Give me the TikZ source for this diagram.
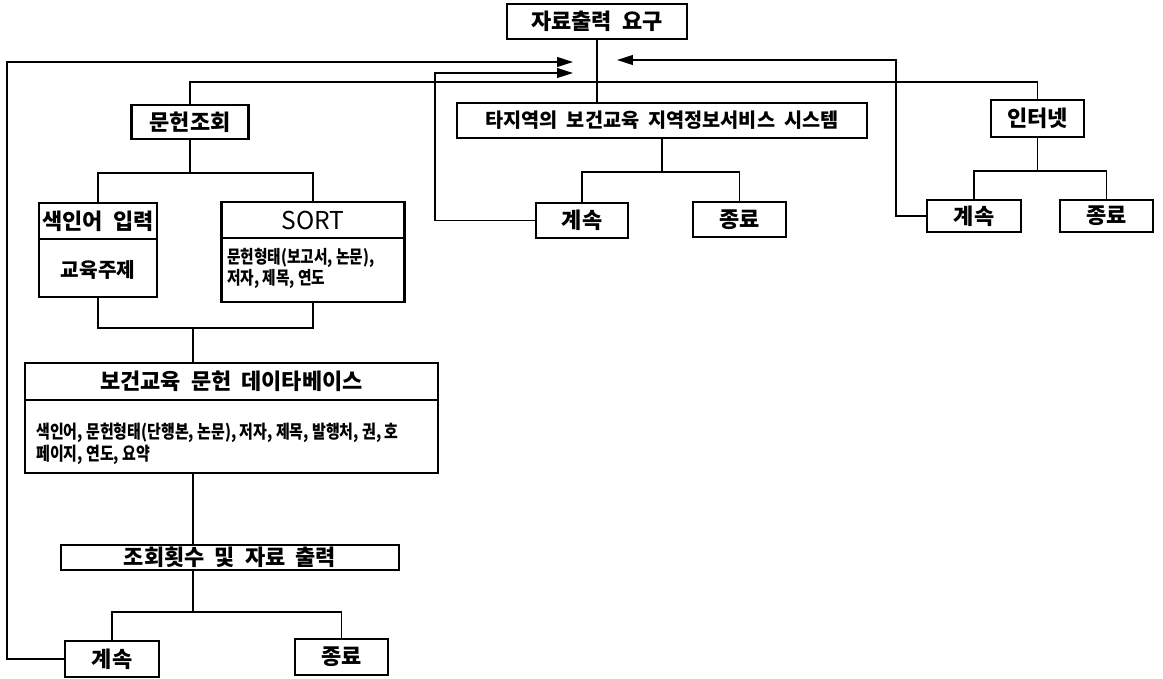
\documentclass[tikz,border=0pt]{standalone}
\usepackage{fontspec}
\newfontfamily\kr[WordSpace=2]{Noto Sans CJK KR}
\newfontfamily\krc[FakeStretch=0.82]{Noto Sans CJK KR}
\usetikzlibrary{arrows.meta}
\begin{document}
\begin{tikzpicture}[x=0.02cm,y=-0.02cm,
  wh/.style 2 args={minimum width=#1*0.02cm, minimum height=#2*0.02cm},
  box/.style={draw, line width=1.3pt, inner sep=0pt, font=\kr\bfseries\fontsize{12.5}{14}\selectfont},
  lbl/.style={inner sep=0pt, font=\kr\bfseries\fontsize{12.5}{14}\selectfont},
  small/.style={inner sep=0pt, anchor=west, align=left, font=\krc\bfseries\fontsize{10.2}{12}\selectfont},
  ln/.style={line width=1pt},
  arr/.style={ln, -{Triangle[length=9pt,width=5.5pt]}}]
\fill[white] (0,0) rectangle (1163,679);
\useasboundingbox (0,0) rectangle (1163,679);

% top level
\node[box,wh={180}{35}] (T) at (597,21.5) {자료출력 요구};
\node[box,wh={117}{34}] (M) at (190,122) {문헌조회};
\node[box,wh={410}{35},font=\kr\bfseries\fontsize{11.2}{13}\selectfont] (O) at (662,120.5) {타지역의 보건교육 지역정보서비스 시스템};
\node[box,wh={93}{37}] (I) at (1037.5,118.5) {인터넷};

% middle and right subtrees
\node[box,wh={92}{35}] (Mc) at (582,220.5) {계속};
\node[box,wh={93}{35}] (Me) at (739.5,219.5) {종료};
\node[box,wh={94}{32}] (Rc) at (974,216) {계속};
\node[box,wh={93}{32}] (Re) at (1106.5,216) {종료};

% left subtree
\node[box,wh={118}{94}] (K) at (98,250) {};
\draw[line width=1.3pt] (K.west |- 0,239) -- (K.east |- 0,239);
\node[lbl] (Kt) at (98,221) {색인어 입력};
\node[lbl,font=\kr\bfseries\fontsize{11.5}{13}\selectfont] (Kb) at (98,270) {교육주제};

\node[box,wh={183}{100}] (S) at (313,252) {};
\draw[line width=1.3pt] (S.west |- 0,238) -- (S.east |- 0,238);
\node[lbl,font=\kr\fontsize{14}{16}\selectfont] (St) at (313,220) {SORT};
\node[small] (Sb) at (227,268) {문헌형태(보고서, 논문),\\저자, 제목, 연도};

\node[box,wh={413}{110}] (D) at (231.5,418) {};
\draw[line width=1.3pt] (D.west |- 0,400) -- (D.east |- 0,400);
\node[lbl] (Dt) at (231.5,381) {보건교육 문헌 데이타베이스};
\node[small,font=\krc\bfseries\fontsize{10.4}{12.5}\selectfont] (Db) at (36,444) {색인어, 문헌형태(단행본, 논문), 저자, 제목, 발행처, 권, 호\\페이지, 연도, 요약};

\node[box,wh={338}{25}] (Q) at (230,557.5) {조회횟수 및 자료 출력};
\node[box,wh={94}{36}] (Bc) at (112,659) {계속};
\node[box,wh={93}{36}] (Be) at (341.5,657) {종료};

% connectors
\draw[ln] (T.south) -- (T.south |- O.north);
\draw[ln] (M.north) |- (I.north |- 0,82) -- (I.north);
\draw[ln] (O.south) -- (O.south |- 0,172);
\draw[ln] (Mc.north) |- (Me.north |- 0,172) -- (Me.north);
\draw[ln] (I.south) -- (I.south |- 0,171);
\draw[ln] (Rc.north) |- (Re.north |- 0,171) -- (Re.north);
\draw[ln] (M.south) -- (M.south |- 0,173);
\draw[ln] (K.north) |- (S.north |- 0,173) -- (S.north);
\draw[ln] (K.south) |- (S.south |- 0,328) -- (S.south);
\coordinate (j) at (193,328);
\draw[ln] (j) -- (j |- D.north);
\draw[ln] (j |- D.south) -- (j |- Q.north);
\draw[ln] (j |- Q.south) -- (j |- 0,612);
\draw[ln] (Bc.north) |- (Be.north |- 0,612) -- (Be.north);

% feedback loops
\coordinate (a1) at (573,62);
\coordinate (a2) at (573,73);
\coordinate (a3) at (617,60);
\draw[arr] (Bc.west) -- ++(-57,0) |- (a1);
\draw[arr] (Mc.west) -- ++(-100,0) |- (a2);
\draw[arr] (Rc.west) -- ++(-30,0) |- (a3);
\end{tikzpicture}
\end{document}
